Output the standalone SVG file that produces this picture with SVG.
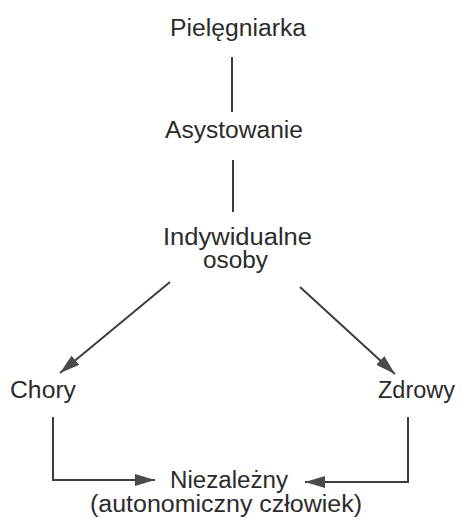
<svg xmlns="http://www.w3.org/2000/svg" width="462" height="520" viewBox="0 0 462 520">
<defs>
<style>
text{font-family:"Liberation Sans",Arial,sans-serif;font-size:23px;fill:#2b2b2b}
.c{fill:none;stroke:#3c3c3c;stroke-width:2}
</style>
<marker id="ah" viewBox="0 0 20 12" refX="20" refY="6" markerWidth="20" markerHeight="12" markerUnits="userSpaceOnUse" orient="auto">
<path d="M0,0 L20,6 L0,12 Z" fill="#4a4a4a"/>
</marker>
</defs>
<rect width="462" height="520" fill="#fff"/>
<g id="connectors">
<line class="c" x1="232" y1="57" x2="232" y2="112"/>
<line class="c" x1="233" y1="160" x2="233" y2="212"/>
<line class="c" x1="170" y1="282" x2="60" y2="373" marker-end="url(#ah)"/>
<line class="c" x1="300" y1="287" x2="395" y2="374" marker-end="url(#ah)"/>
<polyline class="c" points="53,417 53,480 155,480" marker-end="url(#ah)"/>
<polyline class="c" points="408,417 408,482 305,482" marker-end="url(#ah)"/>
</g>
<g id="pielegniarka"><text x="170" y="36" textLength="136" lengthAdjust="spacingAndGlyphs">Pielęgniarka</text></g>
<g id="asystowanie"><text x="165" y="138" textLength="138" lengthAdjust="spacingAndGlyphs">Asystowanie</text></g>
<g id="indywidualne"><text x="163" y="245" textLength="149" lengthAdjust="spacingAndGlyphs">Indywidualne</text><text x="203" y="268" textLength="65" lengthAdjust="spacingAndGlyphs">osoby</text></g>
<g id="chory"><text x="10" y="398" textLength="66" lengthAdjust="spacingAndGlyphs">Chory</text></g>
<g id="zdrowy"><text x="378" y="398" textLength="77" lengthAdjust="spacingAndGlyphs">Zdrowy</text></g>
<g id="niezalezny"><text x="170" y="488" textLength="118" lengthAdjust="spacingAndGlyphs">Niezależny</text><text x="90" y="512" textLength="272" lengthAdjust="spacingAndGlyphs">(autonomiczny człowiek)</text></g>
</svg>
